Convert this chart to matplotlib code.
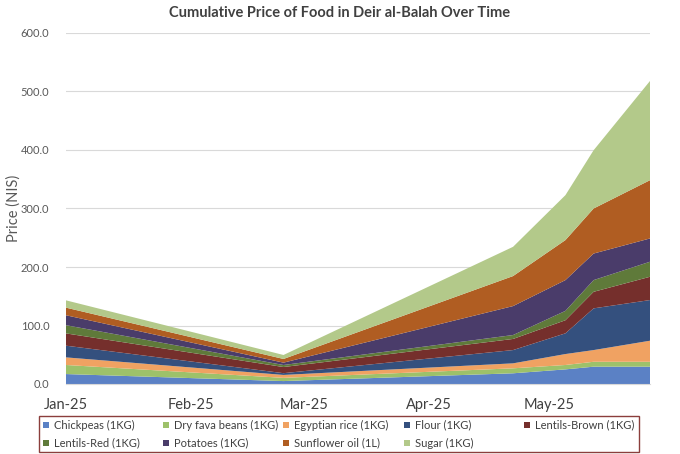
import matplotlib
matplotlib.use("Agg")
import matplotlib.pyplot as plt
import matplotlib.dates as mdates
from matplotlib.patches import Rectangle
import pandas as pd

plt.rcParams['font.family'] = ['Lato', 'DejaVu Sans']

dates = pd.to_datetime(["2025-01-01", "2025-02-24", "2025-04-22",
                        "2025-05-05", "2025-05-12", "2025-05-26"])

series_names = ["Chickpeas (1KG)", "Dry fava beans (1KG)", "Egyptian rice (1KG)",
                "Flour (1KG)", "Lentils-Brown (1KG)", "Lentils-Red (1KG)",
                "Potatoes (1KG)", "Sunflower oil (1L)", "Sugar (1KG)"]

chickpeas = [17, 5, 18.3, 25, 29.6, 29.6]
fava = [15.5, 5.5, 8.5, 7.5, 8.4, 8.4]
rice = [13, 5, 8.5, 18.7, 20, 36]
flour = [20, 3, 22.7, 35.4, 71.3, 69.5]
lentils_brown = [21, 10.5, 19, 22.4, 28.3, 39.8]
lentils_red = [14, 3.5, 6.7, 16, 20, 25.7]
potatoes = [17, 4, 49.5, 52.6, 45.4, 39.8]
sunflower = [13, 6.3, 51.3, 68.4, 77, 99.6]
sugar = [12.5, 6.8, 50, 76.8, 99.6, 169.6]

values = [chickpeas, fava, rice, flour, lentils_brown, lentils_red,
          potatoes, sunflower, sugar]
colors = ["#5B81C5", "#9DC16A", "#F0A262", "#34507E", "#752F2C",
          "#5F7A3A", "#4A3C6A", "#B05D22", "#B3C98A"]

W, H = 680, 454
fig = plt.figure(figsize=(6.8, 4.54), dpi=100)
ax = fig.add_axes([66/W, 1-384/H, (650-66)/W, (384-33)/H])

ax.stackplot(dates, *values, colors=colors, linewidth=0)

ax.set_ylim(0, 600)
ax.set_xlim(dates[0], dates[-1])
ax.set_yticks(range(0, 601, 100))
ax.set_yticklabels([f"{v:.1f}" for v in range(0, 601, 100)])
ax.yaxis.grid(True, color="#D9D9D9", linewidth=0.8)
ax.set_axisbelow(True)
ax.xaxis.set_major_locator(mdates.MonthLocator())
ax.xaxis.set_major_formatter(mdates.DateFormatter("%b-%y"))

for s in ["top", "right", "left"]:
    ax.spines[s].set_visible(False)
ax.spines["bottom"].set_color("#D9D9D9")
ax.tick_params(axis="y", length=0, pad=12, labelsize=8, labelcolor="#595959")
ax.tick_params(axis="x", length=0, pad=10, labelsize=10.5, labelcolor="#404040")

ax.set_ylabel("Price (NIS)", fontsize=10.5, color="#595959")
ax.yaxis.set_label_coords((21-66)/(650-66), 0.5)
fig.text(340/W, 1-13/H, "Cumulative Price of Food in Deir al-Balah Over Time",
         ha="center", va="center", fontsize=10.5, fontweight="bold", color="#404040")

# legend box
fig.add_artist(Rectangle((39/W, 1-452/H), (639-39)/W, (452-416)/H,
                         transform=fig.transFigure, fill=False,
                         edgecolor="#8B3E3C", linewidth=1.0))
col_x = [43, 163, 283, 404, 524]
row_y = [425, 443]
for i, (name, c) in enumerate(zip(series_names, colors)):
    r, k = divmod(i, 5)
    x0 = col_x[k]
    y0 = row_y[r]
    fig.add_artist(Rectangle((x0/W, 1-(y0+3)/H), 5.5/W, 6/H,
                             transform=fig.transFigure, facecolor=c,
                             edgecolor="none"))
    fig.text((x0+11)/W, 1-y0/H, name, ha="left", va="center",
             fontsize=8, color="#404040")

fig.savefig("out.png", dpi=100)
